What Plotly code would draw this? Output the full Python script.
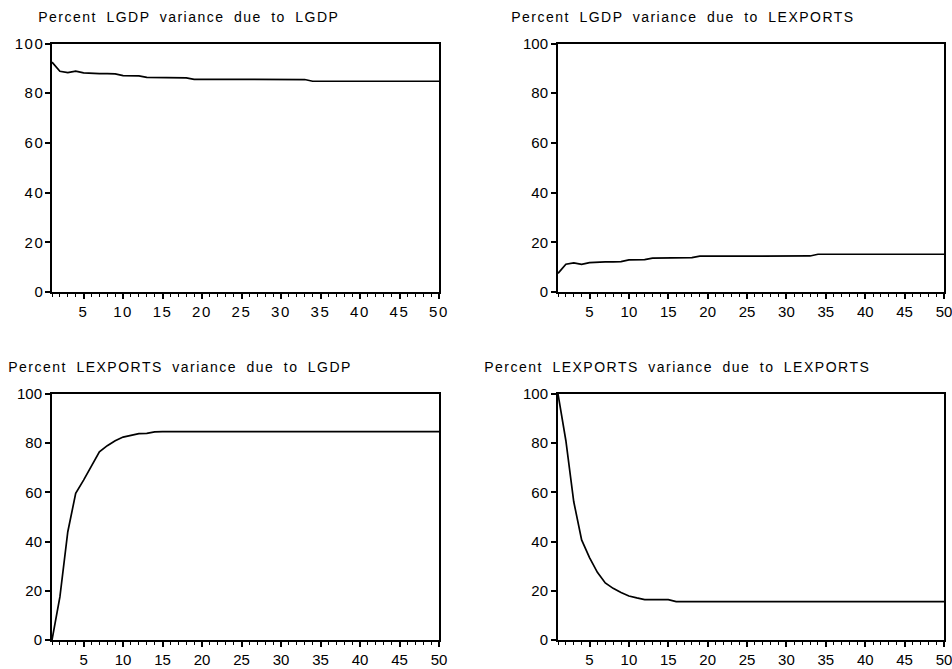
import plotly.graph_objects as go

periods = list(range(1, 51))

lgdp_due_lgdp = [92.5, 88.8, 88.3, 88.9, 88.2, 87.9, 87.9, 87.9, 87.8, 87.1,
                 87.1, 87.0, 86.4, 86.3, 86.3, 86.3, 86.3, 86.2, 85.6, 85.6,
                 85.6, 85.6, 85.6, 85.6, 85.6, 85.6, 85.6, 85.6, 85.6, 85.6,
                 85.6, 85.6, 85.5, 84.8, 84.8, 84.8, 84.8, 84.8, 84.8, 84.8,
                 84.8, 84.8, 84.8, 84.8, 84.8, 84.8, 84.8, 84.8, 84.8, 84.8]

lgdp_due_lexports = [7.5, 11.2, 11.7, 11.1, 11.8, 12.1, 12.1, 12.1, 12.2, 12.9,
                     12.9, 13.0, 13.6, 13.7, 13.7, 13.7, 13.7, 13.8, 14.4, 14.4,
                     14.4, 14.4, 14.4, 14.4, 14.4, 14.4, 14.4, 14.4, 14.4, 14.4,
                     14.4, 14.4, 14.5, 15.2, 15.2, 15.2, 15.2, 15.2, 15.2, 15.2,
                     15.2, 15.2, 15.2, 15.2, 15.2, 15.2, 15.2, 15.2, 15.2, 15.2]

lexports_due_lgdp = [0.0, 17.5, 44.0, 59.6, 65.0, 71.0, 76.5, 79.0, 81.0, 82.5,
                     83.2, 83.9, 84.0, 84.6, 84.7, 84.7, 84.7, 84.7, 84.7, 84.7,
                     84.7, 84.7, 84.7, 84.7, 84.7, 84.7, 84.7, 84.7, 84.7, 84.7,
                     84.7, 84.7, 84.7, 84.7, 84.7, 84.7, 84.7, 84.7, 84.7, 84.7,
                     84.7, 84.7, 84.7, 84.7, 84.7, 84.7, 84.7, 84.7, 84.7, 84.7]

lexports_due_lexports = [100.0, 81.0, 56.2, 40.7, 33.5, 27.5, 23.2, 21.0, 19.3, 17.9,
                         17.1, 16.4, 16.4, 16.4, 16.4, 15.6, 15.6, 15.6, 15.6, 15.6,
                         15.6, 15.6, 15.6, 15.6, 15.6, 15.6, 15.6, 15.6, 15.6, 15.6,
                         15.6, 15.6, 15.6, 15.6, 15.6, 15.6, 15.6, 15.6, 15.6, 15.6,
                         15.6, 15.6, 15.6, 15.6, 15.6, 15.6, 15.6, 15.6, 15.6, 15.6]

titles = ["Percent LGDP variance due to LGDP",
          "Percent LGDP variance due to LEXPORTS",
          "Percent LEXPORTS variance due to LGDP",
          "Percent LEXPORTS variance due to LEXPORTS"]
series = [lgdp_due_lgdp, lgdp_due_lexports, lexports_due_lgdp, lexports_due_lexports]

y_ticks = [0, 20, 40, 60, 80, 100]
x_ticks = [5, 10, 15, 20, 25, 30, 35, 40, 45, 50]

W, H = 952, 669
# plot areas in pixels: (left, right, top, bottom)
areas = [(52, 439, 43.5, 292), (558, 944, 43.5, 292),
         (52, 439, 394, 640), (558, 944, 394, 640)]
title_pos = [(188.5, 17.3), (683, 17.3), (180, 367.3), (677, 367.3)]

FONT = "Liberation Sans, Arial, Helvetica, sans-serif"

fig = go.Figure()
layout = dict(width=W, height=H, margin=dict(l=0, r=0, t=0, b=0, autoexpand=False),
              template="none",
              paper_bgcolor="white", plot_bgcolor="white", showlegend=False,
              font=dict(family=FONT, size=14, color="black"))
annotations = []
for i, (vals, (l, r, t, b)) in enumerate(zip(series, areas)):
    n = "" if i == 0 else str(i + 1)
    fig.add_trace(go.Scatter(x=periods, y=vals, mode="lines",
                             line=dict(color="black", width=1.7),
                             xaxis="x" + n, yaxis="y" + n, hoverinfo="x+y"))
    layout["xaxis" + n] = dict(
        domain=[l / W, r / W], anchor="y" + n, range=[1, 50], automargin=False,
        tickvals=x_ticks, ticks="outside", ticklen=5, tickwidth=1.6, tickcolor="black",
        minor=dict(dtick=1, tick0=0, ticks="outside", ticklen=3, tickwidth=1.3,
                   tickcolor="black", showgrid=False),
        ticklabeloverflow="allow",
        showline=True, linecolor="black", linewidth=2, mirror=True,
        showgrid=False, zeroline=False, tickfont=dict(size=15, family=FONT))
    layout["yaxis" + n] = dict(
        domain=[1 - b / H, 1 - t / H], anchor="x" + n, range=[0, 100], automargin=False,
        tickvals=y_ticks, ticks="outside", ticklen=5, tickwidth=1.6, tickcolor="black",
        ticklabeloverflow="allow",
        showline=True, linecolor="black", linewidth=2, mirror=True,
        showgrid=False, zeroline=False, tickfont=dict(size=15, family=FONT))
    tx, ty = title_pos[i]
    annotations.append(dict(text=titles[i], x=tx / W, y=1 - ty / H, xref="paper", yref="paper",
                            xanchor="center", yanchor="middle", showarrow=False,
                            font=dict(size=14, family=FONT, color="black")))
layout["annotations"] = annotations
fig.update_layout(**layout)

post = """
document.body.style.margin = '0';
var gd = document.getElementById('{plot_id}');
function spacing() {
  gd.querySelectorAll('.annotation-text').forEach(function (e) {
    e.style.letterSpacing = '1.5px'; e.style.wordSpacing = '4px';
  });
  gd.querySelectorAll('.xtick text').forEach(function (e) {
    e.style.letterSpacing = '1.6px';
  });
  gd.querySelectorAll('.ytick text').forEach(function (e) {
    e.style.letterSpacing = '1.6px'; e.setAttribute('dx', '2.5');
  });
}
spacing();
gd.on('plotly_afterplot', spacing);
"""
fig.write_html("out.html", post_script=post, config={"displayModeBar": False})
